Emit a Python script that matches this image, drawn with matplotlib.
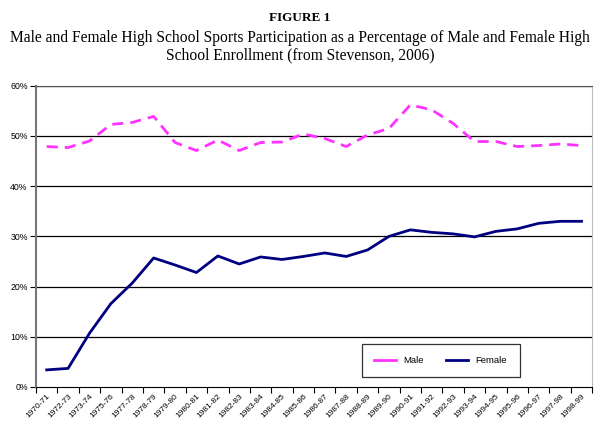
import matplotlib
matplotlib.use("Agg")
import matplotlib.pyplot as plt
import numpy as np

years = ["1970-71", "1972-73", "1973-74", "1975-76", "1977-78", "1978-79", "1979-80",
         "1980-81", "1981-82", "1982-83", "1983-84", "1984-85", "1985-86", "1986-87",
         "1987-88", "1988-89", "1989-90", "1990-91", "1991-92", "1992-93", "1993-94",
         "1994-95", "1995-96", "1996-97", "1997-98", "1998-99"]
male = [47.9, 47.7, 49.0, 52.3, 52.7, 53.9, 48.7, 47.1, 49.2, 47.1, 48.7, 48.8, 50.4,
        49.5, 47.9, 50.2, 51.5, 56.2, 55.2, 52.5, 48.9, 48.9, 47.9, 48.1, 48.4, 48.1]
female = [3.4, 3.7, 10.7, 16.6, 20.7, 25.7, 24.3, 22.8, 26.1, 24.5, 25.9, 25.4, 26.0,
          26.7, 26.0, 27.3, 30.0, 31.3, 30.8, 30.5, 29.9, 31.0, 31.5, 32.6, 33.0, 33.0]

fig = plt.figure(figsize=(6, 4.29), dpi=100)
ax = fig.add_axes([0.06, 0.098, 0.927, 0.702])

x = np.arange(len(years))
ax.plot(x, male, color="#ff33ff", lw=2, dashes=(4, 2.5), label="Male")
ax.plot(x, female, color="#000080", lw=2, label="Female")

ax.set_xlim(-0.5, len(years) - 0.5)
ax.set_ylim(0, 60)
ax.set_yticks(np.arange(0, 61, 10))
ax.set_yticklabels([f"{v}%" for v in range(0, 61, 10)], fontsize=6.3, family="Liberation Sans")
for v in range(10, 61, 10):
    ax.axhline(v, color="black", lw=0.9, zorder=0)

# ticks between categories, labels centred
ax.set_xticks(np.arange(-0.5, len(years), 1))
ax.set_xticklabels([])
ax.set_xticks(x, minor=True)
ax.set_xticklabels(years, minor=True, rotation=45, ha="right", va="top",
                   fontsize=6, family="Liberation Sans", rotation_mode="anchor")
ax.tick_params(axis="x", which="minor", length=0, pad=4)
ax.tick_params(axis="x", which="major", length=4, width=0.8, direction="out")
ax.tick_params(axis="y", length=4, width=0.8, direction="out", pad=2)

ax.spines["left"].set_color("#777777")
ax.spines["left"].set_linewidth(1.5)
ax.spines["bottom"].set_color("black")
ax.spines["top"].set_color("#555555")
ax.spines["right"].set_color("#bbbbbb")

leg = ax.legend(loc="center", bbox_to_anchor=(0.7275, 0.088),
                ncol=2, frameon=True, fancybox=False, edgecolor="black",
                prop={"family": "Liberation Sans", "size": 6.8}, handlelength=2.3,
                borderaxespad=0, columnspacing=2.4, borderpad=1.3)
leg.get_frame().set_linewidth(0.9)
for h in leg.get_lines():
    h.set_linestyle("-")

fig.text(0.5, 0.958, "FIGURE 1", ha="center", va="center", fontsize=9.5,
         fontweight="bold", family="Liberation Serif")
fig.text(0.5, 0.911, "Male and Female High School Sports Participation as a Percentage of Male and Female High",
         ha="center", va="center", fontsize=11.2, family="Liberation Serif")
fig.text(0.5, 0.871, "School Enrollment (from Stevenson, 2006)",
         ha="center", va="center", fontsize=11.2, family="Liberation Serif")

fig.savefig("out.png", dpi=100)
